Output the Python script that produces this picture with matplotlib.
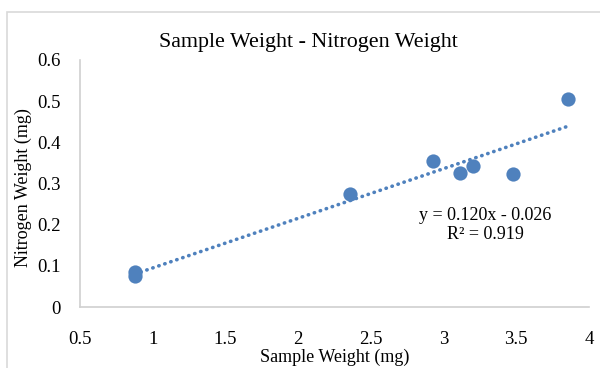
import numpy as np
import matplotlib
matplotlib.use("Agg")
import matplotlib.pyplot as plt
from matplotlib.patches import Rectangle

plt.rcParams['font.family'] = ['Liberation Serif', 'DejaVu Serif']

sample_weight = [0.877, 0.877, 2.354, 2.928, 3.113, 3.205, 3.479, 3.855]
nitrogen_weight = [0.086, 0.076, 0.275, 0.355, 0.325, 0.343, 0.323, 0.506]
x_ticks = [0.5, 1, 1.5, 2, 2.5, 3, 3.5, 4]
x_tick_labels = ["0.5", "1", "1.5", "2", "2.5", "3", "3.5", "4"]
y_ticks = [0, 0.1, 0.2, 0.3, 0.4, 0.5, 0.6]
y_tick_labels = ["0", "0.1", "0.2", "0.3", "0.4", "0.5", "0.6"]
title = "Sample Weight - Nitrogen Weight"
xlabel = "Sample Weight (mg)"
ylabel = "Nitrogen Weight (mg)"
eq_text = "y = 0.120x - 0.026\nR² = 0.919"

blue = "#4f81bd"
fig = plt.figure(figsize=(6, 3.68), dpi=100)
fig.patches.append(Rectangle((7/600, -0.1), 1.2, 1 - 12/368 + 0.1, transform=fig.transFigure,
                             fill=False, edgecolor="#d9d9d9", linewidth=1.2))
ax = fig.add_axes([80/600, 1 - 307/368, (589-80)/600, (307-60)/368])

xs = np.array(sample_weight)
ys = np.array(nitrogen_weight)
m, b = np.polyfit(xs, ys, 1)
xx = np.array([xs.min(), xs.max()])
ax.plot(xx, m*xx + b, color=blue, linewidth=2.6, linestyle=(0, (0.1, 1.65)),
        dash_capstyle='round', zorder=2)
ax.scatter(xs, ys, s=105, color=blue, zorder=3, linewidths=0)

ax.set_xlim(0.5, 4)
ax.set_ylim(0, 0.6)
ax.set_xticks(x_ticks)
ax.set_xticklabels(x_tick_labels)
ax.set_yticks(y_ticks)
ax.set_yticklabels(y_tick_labels)
ax.tick_params(length=0, labelsize=13.5, colors="#000000")
ax.tick_params(axis='x', pad=17)
ax.tick_params(axis='y', pad=14)
for s in ['top', 'right']:
    ax.spines[s].set_visible(False)
for s in ['left', 'bottom']:
    ax.spines[s].set_color("#d0d0d0")
    ax.spines[s].set_linewidth(1.2)

fig.text(308/600, 1 - 42/368, title, ha='center', va='center', fontsize=15.8)
fig.text(335/600, 1 - 357/368, xlabel, ha='center', va='center', fontsize=13)
fig.text(23/600, 1 - 188/368, ylabel, ha='center', va='center', rotation=90, fontsize=13)
fig.text(485/600, 1 - 225/368, eq_text, ha='center', va='center', fontsize=13,
         linespacing=1.2)

fig.savefig("out.png", dpi=100)
